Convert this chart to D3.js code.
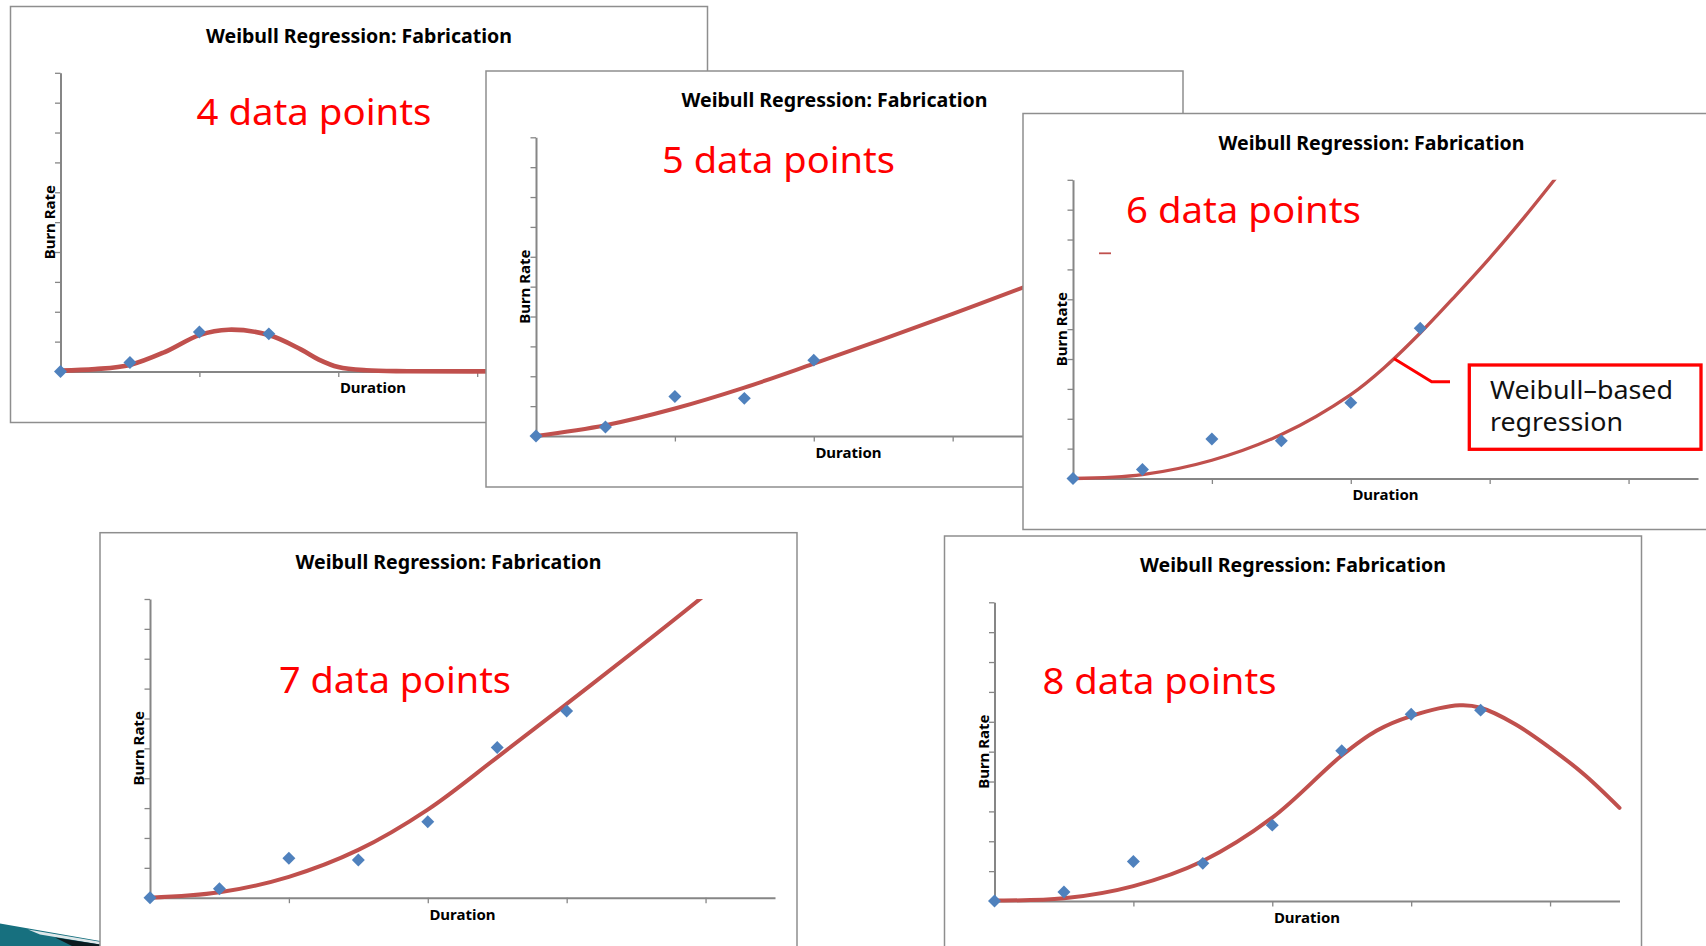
<!DOCTYPE html>
<html>
<head>
<meta charset="utf-8">
<script src="https://cdn.jsdelivr.net/npm/d3@7"></script>
<style>
html,body{margin:0;padding:0;background:#fff;overflow:hidden}
</style>
</head>
<body>
<svg id="c" width="1706" height="946"></svg>
<script>
// ---------------- data ----------------
const chartTitle = "Weibull Regression: Fabrication";
const xAxisTitle = "Duration";
const yAxisTitle = "Burn Rate";
const xTickValues = [2, 4, 6, 8];
const yTickValues = [1, 2, 3, 4, 5, 6, 7, 8, 9, 10];

// observed points (shared by all five charts; each chart uses the first n)
const durations = [0, 1, 2, 3, 4, 5, 6, 7];
const burnRates = [0, 0.30, 1.32, 1.26, 2.54, 5.03, 6.25, 6.39];

const pointCounts = [4, 5, 6, 7, 8];
const pointLabels = ["4 data points", "5 data points", "6 data points", "7 data points", "8 data points"];

// fitted Weibull regression curves: [duration, burn rate]
const fit4 = [[0,0.03],[0.5,0.08],[1,0.22],[1.5,0.65],[2,1.22],[2.42,1.40],[3,1.22],[3.46,0.74],[3.72,0.40],[4,0.15],[4.4,0.04],[5,0.01],[7,0.01]];
const fit5 = [[0,0],[1,0.36],[2,0.92],[3,1.62],[4,2.42],[5,3.24],[6,4.09],[7,4.96],[7.5,5.40]];
const fit6 = [[0,0],[1,0.13],[2,0.61],[3,1.47],[4,2.81],[4.5,3.75],[5,4.87],[5.5,6.10],[6,7.38],[6.5,8.75],[7,10.20]];
const fit7 = [[0,0],[1,0.18],[2,0.70],[3,1.60],[4,2.95],[5,4.70],[6,6.49],[7,8.30],[7.92,10.0],[8.1,10.35]];
const fit8 = [[0,0.02],[1,0.09],[2,0.50],[3,1.34],[4,2.79],[5,4.87],[5.5,5.70],[6,6.19],[6.7,6.55],[7,6.47],[7.5,5.92],[8,5.13],[8.5,4.22],[9,3.12]];
const fits = [fit4, fit5, fit6, fit7, fit8];

const calloutLines = ["Weibull\u2013based", "regression"];
const calloutAnchor = [4.62, 4.02]; // point on the 6-point curve

// ---------------- layout ----------------
const W = 697, H = 416;
const PL = 50, PT = 66.3, PW = 625, PH = 298.7;
const layout = [
  {x: 10.5, y: 6.5,   lx: 186, ly: 118.8, lw: 235, sw: 4.6},
  {x: 486,  y: 71,    lx: 176, ly: 102,   lw: 233, sw: 4},
  {x: 1023, y: 113.5, lx: 103, ly: 109.5, lw: 235, sw: 3.3},
  {x: 100,  y: 532.7, lx: 179, ly: 160.3, lw: 232, sw: 4},
  {x: 944.5,y: 536,   lx: 98,  ly: 158,   lw: 234, sw: 4}
];

const svg = d3.select("#c");
svg.append("rect").attr("width", 1706).attr("height", 946).attr("fill", "#fff");

// slide decoration bottom-left
const deco = svg.append("g");
deco.append("polygon").attr("points", "0,923.5 100,941 100,946 0,946").attr("fill", "#17707f");
deco.append("polygon").attr("points", "28,929.5 100,941.8 100,944.6 40,934.5").attr("fill", "#dfe8ea");
deco.append("polygon").attr("points", "55,937.5 100,944.6 100,946 72,946").attr("fill", "#0b1c20");

const diamond = {
  draw(ctx, size) {
    const r = Math.sqrt(size / 2);
    ctx.moveTo(0, -r); ctx.lineTo(r, 0); ctx.lineTo(0, r); ctx.lineTo(-r, 0); ctx.closePath();
  }
};

const axisColor = "#868686";
const scalesByPanel = [];

pointCounts.forEach((n, i) => {
  const L = layout[i];
  const g = svg.append("g").attr("transform", `translate(${L.x},${L.y})`);
  g.append("rect").attr("width", W).attr("height", H)
    .attr("fill", "#fff").attr("stroke", "#8e8e8e").attr("stroke-width", 1.5);

  g.append("text").attr("x", W / 2).attr("y", 36)
    .attr("text-anchor", "middle")
    .attr("font-family", "'Noto Sans', sans-serif").attr("font-weight", 700)
    .attr("font-size", 20).attr("fill", "#000")
    .attr("textLength", 306).attr("lengthAdjust", "spacingAndGlyphs")
    .text(chartTitle);

  const x = d3.scaleLinear().domain([0, 9]).range([0, PW]);
  const y = d3.scaleLinear().domain([0, 10]).range([PH, 0]);
  scalesByPanel.push({x, y});

  const p = g.append("g").attr("transform", `translate(${PL},${PT})`);
  const clipId = "clip" + i;
  p.append("clipPath").attr("id", clipId).append("rect")
    .attr("x", -10).attr("y", 0).attr("width", PW + 20).attr("height", PH + 10);

  const xa = p.append("g").attr("transform", `translate(0,${PH})`)
    .call(d3.axisBottom(x).tickValues(xTickValues).tickSize(5.5).tickSizeOuter(0).tickFormat(""));
  const ya = p.append("g")
    .call(d3.axisLeft(y).tickValues(yTickValues).tickSize(5.5).tickSizeOuter(0).tickFormat(""));
  [xa, ya].forEach(a => {
    a.select(".domain").attr("stroke", axisColor).attr("stroke-width", 2);
    a.selectAll(".tick line").attr("stroke", axisColor).attr("stroke-width", 1.3);
  });

  p.append("text").attr("x", PW / 2).attr("y", PH + 22)
    .attr("text-anchor", "middle")
    .attr("font-family", "'Noto Sans', sans-serif").attr("font-weight", 700)
    .attr("font-size", 15).attr("fill", "#000").text(xAxisTitle);
  p.append("text").attr("transform", `translate(-6,${PH / 2}) rotate(-90)`)
    .attr("text-anchor", "middle")
    .attr("font-family", "'Noto Sans', sans-serif").attr("font-weight", 700)
    .attr("font-size", 15).attr("fill", "#000").text(yAxisTitle);

  const line = d3.line().x(d => x(d[0])).y(d => y(d[1])).curve(d3.curveCatmullRom.alpha(0.5));
  p.append("path").datum(fits[i]).attr("clip-path", `url(#${clipId})`)
    .attr("d", line).attr("fill", "none")
    .attr("stroke", "#c0504d").attr("stroke-width", L.sw)
    .attr("stroke-linecap", "round").attr("stroke-linejoin", "round");

  const pts = durations.slice(0, n).map((d, k) => [d, burnRates[k]]);
  p.selectAll("path.pt").data(pts).enter().append("path").attr("class", "pt")
    .attr("transform", d => `translate(${x(d[0])},${y(d[1])})`)
    .attr("d", d3.symbol().type(diamond).size(84)())
    .attr("fill", "#4f81bd");

  g.append("text").attr("x", L.lx).attr("y", L.ly)
    .attr("font-family", "'Noto Sans', sans-serif").attr("font-size", 37)
    .attr("fill", "#ff0000")
    .attr("textLength", L.lw).attr("lengthAdjust", "spacingAndGlyphs")
    .text(pointLabels[i]);

  if (n === 6) {
    // small stray red mark present in the original slide
    g.append("line").attr("x1", 76).attr("x2", 88).attr("y1", 139.8).attr("y2", 139.8)
      .attr("stroke", "#c0504d").attr("stroke-width", 1.8);
  }
});

// callout for the 6-point chart
const L3 = layout[2], s3 = scalesByPanel[2];
const ax = L3.x + PL + s3.x(calloutAnchor[0]);
const ay = L3.y + PT + s3.y(calloutAnchor[1]);
svg.append("polyline")
  .attr("points", `${ax},${ay} 1431.7,381.7 1450,381.7`)
  .attr("fill", "none").attr("stroke", "#ff0000").attr("stroke-width", 3);
svg.append("rect").attr("x", 1469.3).attr("y", 365).attr("width", 231.7).attr("height", 84.3)
  .attr("fill", "#fff").attr("stroke", "#ff0000").attr("stroke-width", 3.3);
const callout = svg.append("text")
  .attr("font-family", "'Noto Sans', sans-serif").attr("font-size", 26).attr("fill", "#111");
callout.append("tspan").attr("x", 1490).attr("y", 399.3)
  .attr("textLength", 183).attr("lengthAdjust", "spacingAndGlyphs")
  .text(calloutLines[0]);
callout.append("tspan").attr("x", 1490).attr("y", 430.7)
  .attr("textLength", 133).attr("lengthAdjust", "spacingAndGlyphs")
  .text(calloutLines[1]);
</script>
</body>
</html>
